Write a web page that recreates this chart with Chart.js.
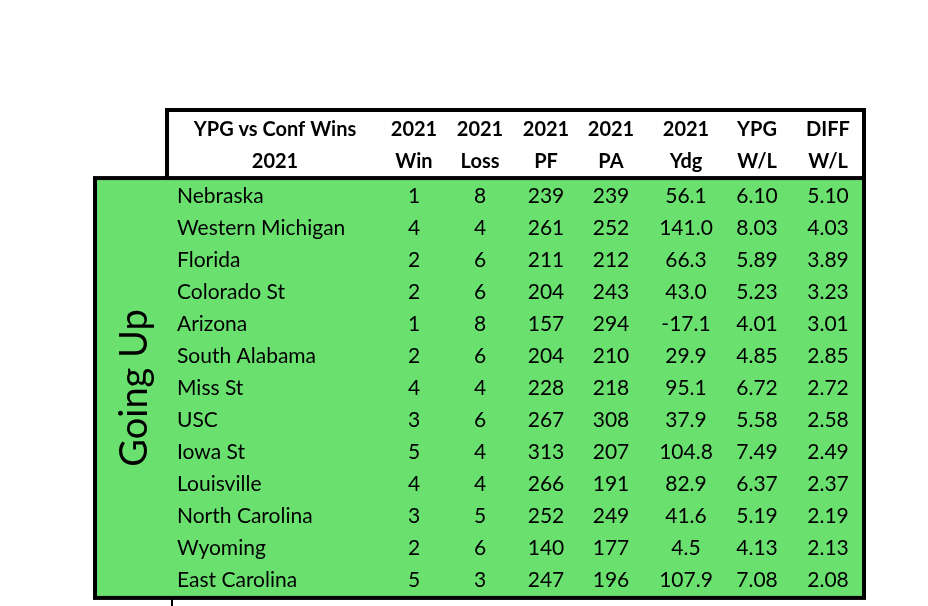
<!DOCTYPE html>
<html><head><meta charset="utf-8">
<script src="https://cdn.jsdelivr.net/npm/chart.js@4.4.0/dist/chart.umd.min.js"></script>
<style>html,body{margin:0;padding:0;background:#fff}</style>
</head><body>
<canvas id="c" width="928" height="606"></canvas>
<script>
const headers1 = ['YPG vs Conf Wins','2021','2021','2021','2021','2021','YPG','DIFF'];
const headers2 = ['2021','Win','Loss','PF','PA','Ydg','W/L','W/L'];
const teams = ['Nebraska','Western Michigan','Florida','Colorado St','Arizona','South Alabama','Miss St','USC','Iowa St','Louisville','North Carolina','Wyoming','East Carolina'];
const wins = [1,4,2,2,1,2,4,3,5,4,3,2,5];
const losses = [8,4,6,6,8,6,4,6,4,4,5,6,3];
const pf = [239,261,211,204,157,204,228,267,313,266,252,140,247];
const pa = [239,252,212,243,294,210,218,308,207,191,249,177,196];
const ydg = ['56.1','141.0','66.3','43.0','-17.1','29.9','95.1','37.9','104.8','82.9','41.6','4.5','107.9'];
const ypgWL = ['6.10','8.03','5.89','5.23','4.01','4.85','6.72','5.58','7.49','6.37','5.19','4.13','7.08'];
const diffWL = ['5.10','4.03','3.89','3.23','3.01','2.85','2.72','2.58','2.49','2.37','2.19','2.13','2.08'];
const sideLabel = 'Going Up';

// layout (pixel positions of columns)
const colX = [177,414,480,546,611,686,757,828];
const hdrX = [275,414,480,546,611,686,757,828];
const columns = [teams, wins, losses, pf, pa, ydg, ypgWL, diffWL];
const FONT = 'Lato, "Open Sans", sans-serif';

const cellData = [];
columns.forEach((col, c) => col.forEach((v, r) => cellData.push({x: colX[c], y: r, text: String(v), c})));
const hdrData = [];
headers1.forEach((t, c) => hdrData.push({x: hdrX[c], y: -2.09, text: t}));
headers2.forEach((t, c) => hdrData.push({x: hdrX[c], y: -1.09, text: t}));

const tablePlugin = {
  id: 'table',
  beforeDatasetsDraw(chart) {
    const ctx = chart.ctx, xs = chart.scales.x, ys = chart.scales.y;
    const X = v => xs.getPixelForValue(v), Y = v => ys.getPixelForValue(v);
    ctx.save();
    // green body
    const gx0 = X(95), gx1 = X(864), gy0 = Y(-0.56), gy1 = Y(12.56);
    ctx.fillStyle = '#6ae06f';
    ctx.fillRect(gx0, gy0, gx1 - gx0, gy1 - gy0);
    ctx.strokeStyle = '#000'; ctx.lineWidth = 4;
    ctx.strokeRect(gx0, gy0, gx1 - gx0, gy1 - gy0);
    // header box lines
    const hy0 = Y(-2.69);
    ctx.beginPath();
    ctx.moveTo(X(167), gy0); ctx.lineTo(X(167), hy0); ctx.lineTo(gx1, hy0); ctx.lineTo(gx1, gy0);
    ctx.stroke();
    ctx.lineWidth = 2;
    ctx.beginPath(); ctx.moveTo(X(172), gy1); ctx.lineTo(X(172), Y(13)); ctx.stroke();
    // side label
    ctx.translate(X(135), (gy0 + gy1) / 2);
    ctx.rotate(-Math.PI / 2);
    ctx.fillStyle = '#000'; ctx.font = '38px ' + FONT;
    ctx.textAlign = 'center'; ctx.textBaseline = 'middle';
    ctx.fillText(sideLabel, 0, 0);
    ctx.restore();
  },
  afterDatasetsDraw(chart) {
    const ctx = chart.ctx;
    ctx.save(); ctx.fillStyle = '#000'; ctx.textBaseline = 'middle';
    chart.getDatasetMeta(0).data.forEach((el, i) => {
      const d = cellData[i];
      ctx.font = '21px ' + FONT;
      ctx.textAlign = d.c === 0 ? 'left' : 'center';
      ctx.fillText(d.text, el.x, el.y);
    });
    chart.getDatasetMeta(1).data.forEach((el, i) => {
      ctx.font = 'bold 20px ' + FONT; ctx.textAlign = 'center';
      ctx.fillText(hdrData[i].text, el.x, el.y);
    });
    ctx.restore();
  }
};

new Chart(document.getElementById('c'), {
  type: 'scatter',
  data: { datasets: [
    { data: cellData, pointRadius: 0 },
    { data: hdrData, pointRadius: 0 }
  ]},
  options: {
    responsive: false, animation: false, devicePixelRatio: 1,
    layout: { padding: 0 },
    plugins: { legend: { display: false }, tooltip: { enabled: false } },
    scales: {
      x: { type: 'linear', min: 0, max: 928, display: false },
      y: { type: 'linear', min: -6.125, max: 12.8125, reverse: true, display: false }
    }
  },
  plugins: [tablePlugin]
});
</script>
</body></html>
